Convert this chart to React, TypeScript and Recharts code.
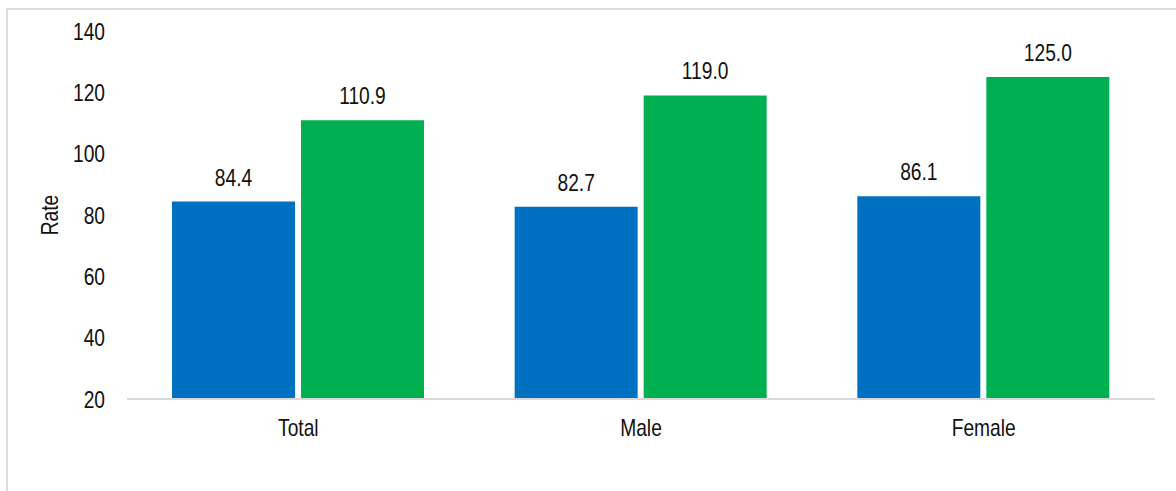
import { BarChart, Bar, XAxis, YAxis, LabelList, Label } from "recharts";

const categories = ["Total", "Male", "Female"];
const blueValues = [84.4, 82.7, 86.1];
const greenValues = [110.9, 119.0, 125.0];
const yTicks = [20, 40, 60, 80, 100, 120, 140];

const data = categories.map((name, i) => ({
  name,
  blue: blueValues[i],
  green: greenValues[i],
}));

const font = "'Liberation Sans', Arial, sans-serif";
const narrow = 0.8; // squeeze text horizontally, the original uses a narrow face

function NarrowText({ x, y, anchor, dy, children, rotate }: any) {
  const tf = rotate
    ? `translate(${x},${y}) rotate(${rotate}) scale(${narrow},1)`
    : `translate(${x},${y}) scale(${narrow},1)`;
  return (
    <text
      transform={tf}
      textAnchor={anchor}
      dy={dy}
      fill="#111"
      fontSize={24}
      fontFamily={font}
    >
      {children}
    </text>
  );
}

const XTick = ({ x, y, payload }: any) => (
  <NarrowText x={x} y={y} anchor="middle" dy="0.71em">
    {payload.value}
  </NarrowText>
);

const YTick = ({ x, y, payload }: any) => (
  <NarrowText x={x} y={y} anchor="end" dy="0.355em">
    {payload.value}
  </NarrowText>
);

const BarValue = ({ x, y, width, value }: any) => (
  <NarrowText x={x + width / 2} y={y - 16} anchor="middle">
    {Number(value).toFixed(1)}
  </NarrowText>
);

const RateLabel = ({ viewBox }: any) => (
  <NarrowText
    x={49}
    y={viewBox.y + viewBox.height / 2}
    anchor="middle"
    dy="0.355em"
    rotate={-90}
  >
    Rate
  </NarrowText>
);

export default function App() {
  return (
    <div
      style={{
        position: "absolute",
        left: 0,
        top: 0,
        width: 1176,
        height: 491,
        background: "white",
        fontFamily: font,
      }}
    >
      <div
        style={{
          position: "absolute",
          left: 6,
          top: 8,
          width: 1170,
          height: 483,
          borderTop: "2px solid #dcdcdc",
          borderLeft: "2px solid #dcdcdc",
          boxSizing: "border-box",
        }}
      />
      <div style={{ position: "absolute", left: 0, top: 0 }}>
        <BarChart
          width={1176}
          height={491}
          data={data}
          margin={{ top: 31, right: 21, left: 0, bottom: 32 }}
          barGap={6}
          barSize={123}
        >
          <XAxis
            dataKey="name"
            height={60}
            tickLine={false}
            tickSize={0}
            tickMargin={20}
            axisLine={{ stroke: "#d9d9d9", strokeWidth: 2 }}
            tick={<XTick />}
          />
          <YAxis
            width={127}
            domain={[20, 140]}
            ticks={yTicks}
            allowDataOverflow
            axisLine={false}
            tickLine={false}
            tickSize={0}
            tickMargin={22}
            tick={<YTick />}
          >
            <Label position="center" content={<RateLabel />} />
          </YAxis>
          <Bar dataKey="blue" fill="#0070C0" isAnimationActive={false}>
            <LabelList dataKey="blue" content={<BarValue />} />
          </Bar>
          <Bar dataKey="green" fill="#00B050" isAnimationActive={false}>
            <LabelList dataKey="green" content={<BarValue />} />
          </Bar>
        </BarChart>
      </div>
    </div>
  );
}
